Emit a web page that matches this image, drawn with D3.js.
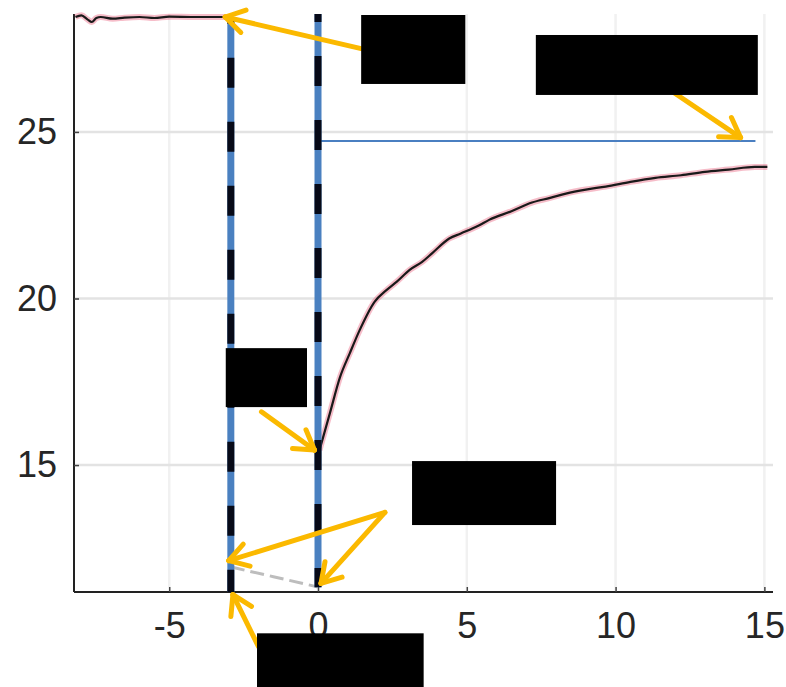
<!DOCTYPE html>
<html><head><meta charset="utf-8">
<script src="https://cdn.jsdelivr.net/npm/d3@7"></script>
<style>body{margin:0;background:#fff}svg{display:block}</style>
</head><body>
<svg id="c" width="786" height="687"></svg>
<script>
// ---- data ----
const xTicks = [-5, 0, 5, 10, 15];
const yTicks = [15, 20, 25];
// pre-step trace (before the jump)
const preT = [-8.15, -7.95, -7.75, -7.6, -7.45, -7.3, -6.9, -6.5, -6.0, -5.5, -5.0, -4.2, -3.5, -2.93];
const preV = [28.45, 28.5, 28.38, 28.3, 28.42, 28.45, 28.4, 28.43, 28.45, 28.42, 28.46, 28.45, 28.45, 28.45];
// recovery trace after the step
const recT = [0.05, 0.4, 0.74, 1.07, 1.4, 1.9, 2.3, 2.64, 3.08, 3.5, 3.85, 4.41, 4.8, 5.42, 5.75, 6.5, 7.19, 7.8, 8.33, 9.0, 9.67, 10.5, 11.34, 12.2, 13.0, 13.8, 14.68, 15.1];
const recV = [15.45, 16.56, 17.64, 18.36, 19.05, 19.9, 20.25, 20.5, 20.86, 21.1, 21.37, 21.8, 21.95, 22.2, 22.36, 22.62, 22.88, 23.02, 23.15, 23.27, 23.36, 23.5, 23.62, 23.7, 23.8, 23.87, 23.95, 23.95];
// faint segment between the two markers near the bottom
const gapT = [-2.93, -1.5, 0];
const gapV = [11.94, 11.65, 11.34];
// vertical markers
const markerX = [-2.93, 0];
// horizontal reference level
const refLevel = 24.73, refFrom = 0.1, refTo = 14.7;
// redaction boxes [x0, y0, x1, y1] in data units
const boxes = [
  [1.45, 28.51, 4.95, 26.44],
  [7.32, 27.91, 14.78, 26.11],
  [-3.1, 18.51, -0.37, 16.74],
  [3.16, 15.12, 8.0, 13.2],
  [-2.05, 9.95, 3.55, 8.33]
];
// arrows: [fromX, fromY, toX, toY] in data units
const arrows = [
  [1.45, 27.5, -3.12, 28.45],
  [11.43, 26.5, 14.2, 24.83],
  [-1.9, 16.6, -0.12, 15.45],
  [2.25, 13.58, -3.0, 12.13],
  [2.25, 13.58, 0.1, 11.45],
  [-2.0, 9.55, -2.86, 11.11]
];

// ---- scales ----
const x = d3.scaleLinear().domain([-8.2, 15.29]).range([74, 773]);
const y = d3.scaleLinear().domain([11.19, 28.54]).range([592, 14]);
const svg = d3.select("#c");

// grid
svg.append("g").selectAll("line").data(xTicks).join("line")
  .attr("x1", d => x(d)).attr("x2", d => x(d)).attr("y1", y(28.54)).attr("y2", y(11.19))
  .attr("stroke", "#f1f1f1").attr("stroke-width", 2.5);
svg.append("g").selectAll("line").data(yTicks).join("line")
  .attr("x1", x(-8.2)).attr("x2", x(15.29)).attr("y1", d => y(d)).attr("y2", d => y(d))
  .attr("stroke", "#e3e3e3").attr("stroke-width", 2.5);

// axes
const fmt = d => String(d);
const xAxis = d3.axisBottom(x).tickValues(xTicks).tickSize(-5).tickPadding(28).tickFormat(fmt);
const yAxis = d3.axisLeft(y).tickValues(yTicks).tickSize(-5).tickPadding(17).tickFormat(fmt);
const gx = svg.append("g").attr("transform", `translate(0,${y(11.19)})`).call(xAxis);
const gy = svg.append("g").attr("transform", `translate(${x(-8.2)},0)`).call(yAxis);
[gx, gy].forEach(g => {
  g.select(".domain").attr("stroke", "#222").attr("stroke-width", 2);
  g.selectAll(".tick line").attr("stroke", "#444").attr("stroke-width", 1.5);
  g.selectAll(".tick text").attr("fill", "#262626")
    .style("font-family", "'Liberation Sans', Arial, sans-serif").style("font-size", "36px");
});
gx.selectAll(".tick text").attr("dy", "0.5em");
gx.select(".domain").attr("d", `M${x(-8.2)},0H${x(15.29)}`);
gy.select(".domain").attr("d", `M0,${y(28.54)}V${y(11.19)}`);

const line = d3.line().x(d => x(d[0])).y(d => y(d[1])).curve(d3.curveMonotoneX);

// faint gap segment
svg.append("path").datum(d3.zip(gapT, gapV)).attr("d", line)
  .attr("fill", "none").attr("stroke", "#bdbdbd").attr("stroke-width", 3).attr("stroke-dasharray", "14,6");

// pink data band + black fit
const pre = d3.zip(preT, preV), rec = d3.zip(recT, recV);
[pre, rec].forEach(s => {
  svg.append("path").datum(s).attr("d", line).attr("fill", "none")
    .attr("stroke", "rgba(232,90,120,0.4)").attr("stroke-width", 6);
  svg.append("path").datum(s).attr("d", line).attr("fill", "none")
    .attr("stroke", "#1a1a1a").attr("stroke-width", 2.2);
});

// reference level
svg.append("line").attr("x1", x(refFrom)).attr("x2", x(refTo))
  .attr("y1", y(refLevel)).attr("y2", y(refLevel))
  .attr("stroke", "#4a7fc1").attr("stroke-width", 2);

// vertical markers
const tops = [28.43, 28.54], bots = [11.19, 11.33];
markerX.forEach((m, i) => {
  svg.append("line").attr("x1", x(m)).attr("x2", x(m)).attr("y1", y(tops[i])).attr("y2", y(bots[i]))
    .attr("stroke", "#4a80c0").attr("stroke-width", 7);
  svg.append("line").attr("x1", x(m)).attr("x2", x(m)).attr("y1", y(tops[i])).attr("y2", y(bots[i]))
    .attr("stroke", "#070a18").attr("stroke-width", 7)
    .attr("stroke-dasharray", "30,34").attr("stroke-dashoffset", i ? -42 : -40);
});

// arrows
const yellow = "#fbb900";
arrows.forEach(a => {
  const x0 = x(a[0]), y0 = y(a[1]), x1 = x(a[2]), y1 = y(a[3]);
  const ang = Math.atan2(y1 - y0, x1 - x0), L = 22, sp = 0.55;
  svg.append("line").attr("x1", x0).attr("y1", y0).attr("x2", x1).attr("y2", y1)
    .attr("stroke", yellow).attr("stroke-width", 5).attr("stroke-linecap", "round");
  [-sp, sp].forEach(s => {
    svg.append("line").attr("x1", x1).attr("y1", y1)
      .attr("x2", x1 - L * Math.cos(ang + s)).attr("y2", y1 - L * Math.sin(ang + s))
      .attr("stroke", yellow).attr("stroke-width", 5).attr("stroke-linecap", "round");
  });
});

// redaction boxes
svg.append("g").selectAll("rect").data(boxes).join("rect")
  .attr("x", d => x(d[0])).attr("y", d => y(d[1]))
  .attr("width", d => x(d[2]) - x(d[0])).attr("height", d => y(d[3]) - y(d[1]))
  .attr("fill", "#000");
</script>
</body></html>
